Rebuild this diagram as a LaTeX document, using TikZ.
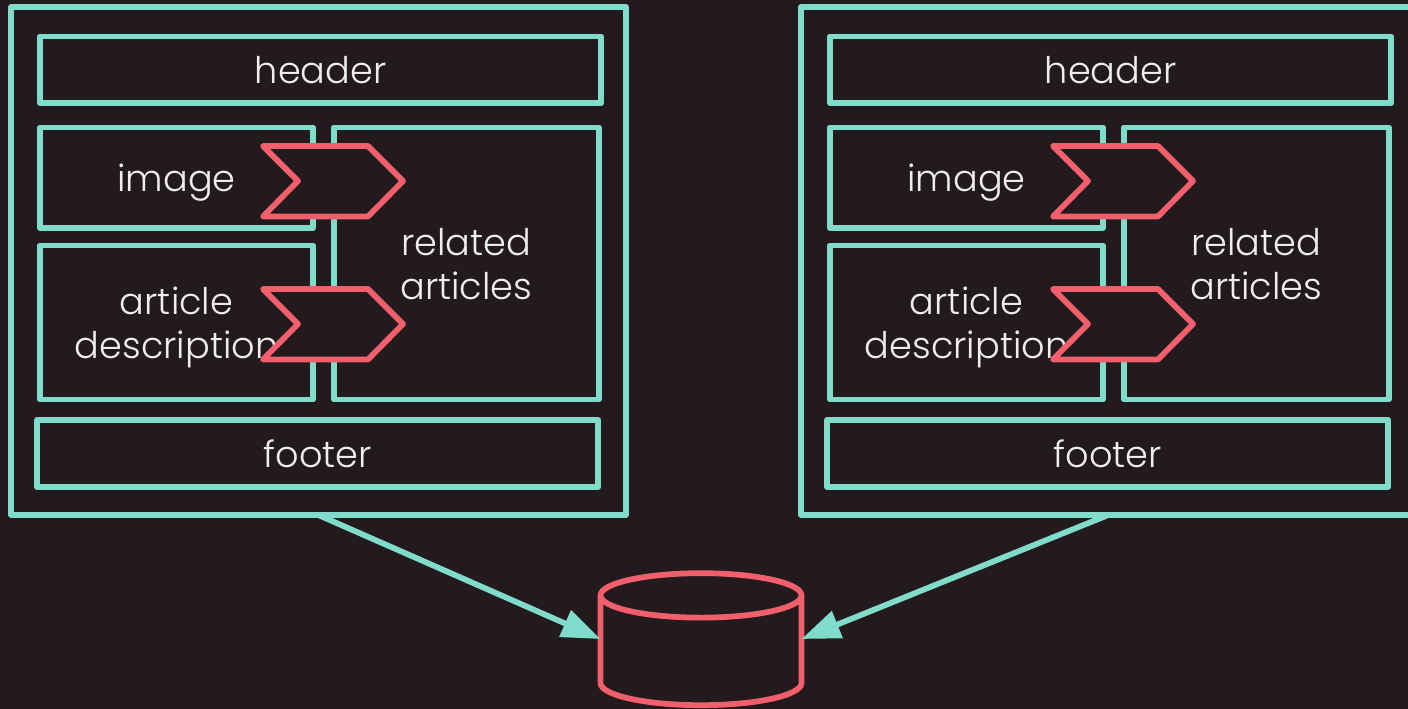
\documentclass[tikz,border=0pt]{standalone}
\usepackage{fontspec}
\setmainfont{Poppins Light}
\usetikzlibrary{arrows.meta,shapes.geometric}
\definecolor{bgdark}{RGB}{35,26,30}
\definecolor{panelteal}{RGB}{128,219,203}
\definecolor{chevred}{RGB}{241,95,108}
\definecolor{labelwhite}{RGB}{238,238,238}
\tikzset{
  panel/.style={draw=panelteal,line width=4.3pt,line join=round,outer sep=0pt,inner sep=0pt,text=labelwhite,text depth=0pt,font=\fontsize{27.5}{33}\selectfont,align=center,anchor=north west},
  chevron/.style={draw=chevred,fill=bgdark,line width=4.3pt,line join=round},
  link/.style={draw=panelteal,line width=4.3pt,-{Triangle[length=29pt,width=21pt,fill=panelteal]}}
}
\begin{document}
\begin{tikzpicture}[x=0.75pt,y=0.75pt,yscale=-1,xscale=1]
\path [use as bounding box,fill=bgdark] (0,0) rectangle (1408,709);

%Shape: Rectangle, left page
\node (pageL) [panel,minimum width=461pt,minimum height=381pt] at (11,7) {};
% Text Node
\node (headerL) [panel,minimum width=421pt,minimum height=50pt] at (40,36.5) {header};
% Text Node
\node (imageL) [panel,minimum width=204.8pt,minimum height=75.5pt] at (40,127.5) {image};
% Text Node
\node (articleL) [panel,minimum width=204.8pt,minimum height=115.5pt] at (40,245.5) {article\\description};
% Text Node
\node (relatedL) [panel,minimum width=198.5pt,minimum height=204pt] at (334,127.5) {related\\articles};
% Text Node
\node (footerL) [panel,minimum width=421pt,minimum height=50pt] at (37,420) {footer};

%Shape: Rectangle, right page
\node (pageR) [panel,minimum width=461pt,minimum height=381pt] at (801,7) {};
% Text Node
\node (headerR) [panel,minimum width=421pt,minimum height=50pt] at (830,36.5) {header};
% Text Node
\node (imageR) [panel,minimum width=204.8pt,minimum height=75.5pt] at (830,127.5) {image};
% Text Node
\node (articleR) [panel,minimum width=204.8pt,minimum height=115.5pt] at (830,245.5) {article\\description};
% Text Node
\node (relatedR) [panel,minimum width=198.5pt,minimum height=204pt] at (1124,127.5) {related\\articles};
% Text Node
\node (footerR) [panel,minimum width=421pt,minimum height=50pt] at (827,420) {footer};

%Shape: Chevrons
\draw [chevron] (263,146) -- (368,146) -- (403,181) -- (368,216.5) -- (263,216.5) -- (298,181) -- cycle ;
\draw [chevron] (263,289) -- (368,289) -- (403,324) -- (368,359.5) -- (263,359.5) -- (298,324) -- cycle ;
\draw [chevron] (1053,146) -- (1158,146) -- (1193,181) -- (1158,216.5) -- (1053,216.5) -- (1088,181) -- cycle ;
\draw [chevron] (1053,289) -- (1158,289) -- (1193,324) -- (1158,359.5) -- (1053,359.5) -- (1088,324) -- cycle ;

%Shape: Can
\node (store) [cylinder,shape border rotate=90,draw=chevred,line width=4.3pt,line join=round,outer sep=0pt,aspect=5,minimum width=150.75pt,minimum height=99pt] at (701,655) {};

%Straight Lines
\draw [link] (pageL.south) -- ([yshift=-12pt]store.west) ;
\draw [link] (pageR.south) -- ([yshift=-12pt]store.east) ;
\end{tikzpicture}
\end{document}
